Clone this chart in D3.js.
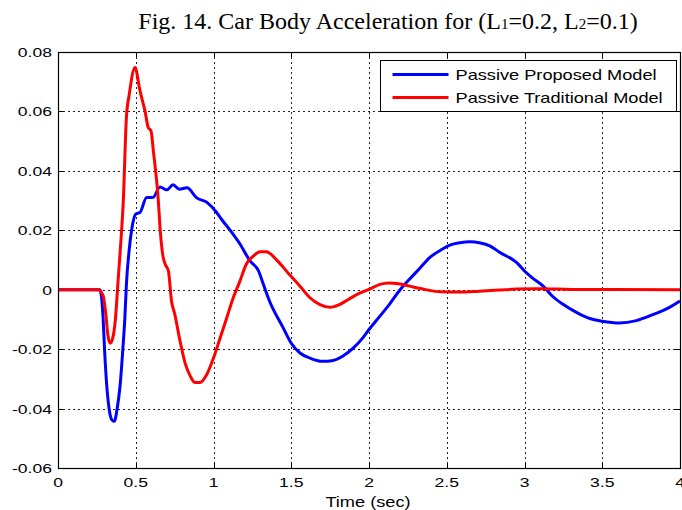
<!DOCTYPE html>
<html>
<head>
<meta charset="utf-8">
<script src="https://cdn.jsdelivr.net/npm/d3@7"></script>
<style>
  body { margin: 0; background: #fff; }
  svg { display: block; }
  .lbl { font-family: Arial, "Liberation Sans", sans-serif; font-size: 13.5px; fill: #000; }
</style>
</head>
<body>
<svg width="682" height="510"></svg>
<script>
// tick values
var xTicks = [0, 0.5, 1, 1.5, 2, 2.5, 3, 3.5, 4];
var yTicks = [-0.06, -0.04, -0.02, 0, 0.02, 0.04, 0.06, 0.08];

// Passive Traditional Model (red)
var tradTime = [0, 0.26, 0.29, 0.31, 0.32, 0.335, 0.35, 0.37, 0.385, 0.40, 0.42, 0.44, 0.459, 0.495,
    0.527, 0.56, 0.58, 0.598, 0.613, 0.645, 0.656, 0.675, 0.69, 0.71, 0.73, 0.75, 0.785, 0.817, 0.85,
    0.88, 0.913, 0.956, 1.0, 1.04, 1.085, 1.127, 1.17, 1.21, 1.256, 1.30, 1.34, 1.41, 1.49, 1.556,
    1.62, 1.685, 1.75, 1.81, 1.87, 1.93, 2.0, 2.07, 2.13, 2.19, 2.26, 2.33, 2.46, 2.585, 2.71, 2.84,
    2.95, 3.1, 3.3, 4.0];
var tradAccel = [0, 0, -0.002, -0.0095, -0.015, -0.018, -0.0167, -0.0095, 0.002, 0.013, 0.030, 0.058,
    0.066, 0.0748, 0.067, 0.060, 0.0546, 0.0535, 0.0468, 0.030, 0.021, 0.0113, 0.0085, 0.0063, -0.0038,
    -0.008, -0.0173, -0.0246, -0.029, -0.0312, -0.0312, -0.0286, -0.023, -0.0167, -0.0095, -0.0027,
    0.0029, 0.0085, 0.0113, 0.0128, 0.0128, 0.0098, 0.005, 0.0012, -0.0027, -0.005, -0.0059, -0.005,
    -0.0032, -0.0014, 0.0001, 0.0018, 0.0023, 0.002, 0.0012, 0.0004, -0.0007, -0.0008, -0.0005,
    -0.0001, 0.0002, 0.0003, 0.0001, 0];

// Passive Proposed Model (blue)
var propTime = [0, 0.27, 0.29, 0.30, 0.313, 0.328, 0.345, 0.362, 0.381, 0.40, 0.416, 0.43, 0.44,
    0.457, 0.476, 0.50, 0.527, 0.57, 0.61, 0.656, 0.70, 0.74, 0.78, 0.83, 0.89, 0.96, 1.02, 1.05,
    1.11, 1.17, 1.235, 1.29, 1.32, 1.36, 1.45, 1.5, 1.556, 1.62, 1.70, 1.77, 1.83, 1.90, 1.96, 2.0,
    2.07, 2.13, 2.20, 2.26, 2.33, 2.39, 2.46, 2.52, 2.585, 2.65, 2.71, 2.78, 2.84, 2.95, 3.0, 3.05,
    3.12, 3.18, 3.25, 3.34, 3.42, 3.5, 3.61, 3.72, 3.83, 3.92, 4.0];
var propAccel = [0, 0, -0.0095, -0.0207, -0.0319, -0.0398, -0.0437, -0.0443, -0.0398, -0.0319,
    -0.0207, -0.0095, 0.0019, 0.013, 0.0209, 0.0255, 0.026, 0.031, 0.031, 0.0346, 0.0336, 0.0353,
    0.0338, 0.0343, 0.031, 0.0293, 0.026, 0.0238, 0.0198, 0.0154, 0.0097, 0.0063, 0.0019, -0.0038,
    -0.013, -0.018, -0.0213, -0.023, -0.0241, -0.0238, -0.0224, -0.0196, -0.0162, -0.0134, -0.0089,
    -0.005, 0, 0.0035, 0.0074, 0.0108, 0.0133, 0.015, 0.0158, 0.0161, 0.0158, 0.0147, 0.0126, 0.0091,
    0.0063, 0.004, 0.0012, -0.0022, -0.005, -0.0078, -0.0097, -0.0106, -0.0112, -0.0104, -0.0083,
    -0.0063, -0.0038];

var seriesNames = ["Passive Proposed Model", "Passive Traditional Model"];
var seriesColors = ["#0000ff", "#ff0000"];

var svg = d3.select("svg");

// plot box (don't call it "top", that's window.top)
var pLeft = 58, pRight = 680, pTop = 52, pBottom = 468;
var stretch = 1.3; // the figure text is wider than normal Arial

var x = d3.scaleLinear().domain([0, 4]).range([pLeft, pRight]);
var y = d3.scaleLinear().domain([-0.06, 0.08]).range([pBottom, pTop]);

function wideText(g, px, py, anchor, str, size) {
    return g.append("text")
        .attr("class", "lbl")
        .attr("transform", "translate(" + px + "," + py + ") scale(" + stretch + ",1)")
        .attr("text-anchor", anchor)
        .style("font-size", size ? size + "px" : null)
        .text(str);
}

// title
var title = svg.append("text")
    .attr("x", 388)
    .attr("y", 29)
    .attr("text-anchor", "middle")
    .style("font-family", "'Times New Roman', 'Liberation Serif', serif")
    .style("font-size", "24px");
title.append("tspan").text("Fig. 14. Car Body Acceleration for (L");
title.append("tspan").attr("font-size", "15px").text("1");
title.append("tspan").text("=0.2, L");
title.append("tspan").attr("font-size", "15px").text("2");
title.append("tspan").text("=0.1)");

// grid
var grid = svg.append("g")
    .attr("stroke", "#222")
    .attr("stroke-width", 1)
    .attr("stroke-dasharray", "2,3");

grid.selectAll(".vgrid")
    .data(xTicks.slice(1, -1))
    .enter().append("line")
    .attr("x1", function (d) { return Math.round(x(d)) + 0.5; })
    .attr("x2", function (d) { return Math.round(x(d)) + 0.5; })
    .attr("y1", pTop)
    .attr("y2", pBottom);

grid.selectAll(".hgrid")
    .data(yTicks.slice(1, -1))
    .enter().append("line")
    .attr("y1", function (d) { return Math.round(y(d)) + 0.5; })
    .attr("y2", function (d) { return Math.round(y(d)) + 0.5; })
    .attr("x1", pLeft)
    .attr("x2", pRight);

// inward ticks
var ticks = svg.append("g").attr("stroke", "#000");
xTicks.forEach(function (d) {
    var px = Math.round(x(d)) + 0.5;
    ticks.append("line").attr("x1", px).attr("x2", px).attr("y1", pBottom).attr("y2", pBottom - 5);
    ticks.append("line").attr("x1", px).attr("x2", px).attr("y1", pTop).attr("y2", pTop + 5);
});
yTicks.forEach(function (d) {
    var py = Math.round(y(d)) + 0.5;
    ticks.append("line").attr("y1", py).attr("y2", py).attr("x1", pLeft).attr("x2", pLeft + 5);
    ticks.append("line").attr("y1", py).attr("y2", py).attr("x1", pRight).attr("x2", pRight - 5);
});

// tick labels
var labels = svg.append("g");
xTicks.forEach(function (d) {
    wideText(labels, x(d), 487, "middle", d3.format("")(d));
});
yTicks.forEach(function (d) {
    var s = d === 0 ? "0" : d3.format(".2f")(d).replace("\u2212", "-");
    wideText(labels, 52, y(d) + 5, "end", s);
});

wideText(svg, 368, 506.5, "middle", "Time (sec)", 14);

// curves
var line = d3.line()
    .x(function (d) { return x(d[0]); })
    .y(function (d) { return y(d[1]); })
    .curve(d3.curveMonotoneX);

var plot = svg.append("g");

plot.append("path")
    .datum(d3.zip(propTime, propAccel))
    .attr("fill", "none")
    .attr("stroke", seriesColors[0])
    .attr("stroke-width", 3)
    .attr("stroke-linejoin", "round")
    .attr("d", line);

plot.append("path")
    .datum(d3.zip(tradTime, tradAccel))
    .attr("fill", "none")
    .attr("stroke", seriesColors[1])
    .attr("stroke-width", 3)
    .attr("stroke-linejoin", "round")
    .attr("d", line);

// axes box
svg.append("rect")
    .attr("x", pLeft + 0.5)
    .attr("y", pTop + 0.5)
    .attr("width", pRight - pLeft)
    .attr("height", pBottom - pTop)
    .attr("fill", "none")
    .attr("stroke", "#000")
    .attr("stroke-width", 1.2);

// legend
var legend = svg.append("g").attr("transform", "translate(380.5,60.5)");
legend.append("rect")
    .attr("width", 296)
    .attr("height", 51)
    .attr("fill", "#fff")
    .attr("stroke", "#000");

seriesNames.forEach(function (name, i) {
    var ly = 14 + i * 23;
    legend.append("line")
        .attr("x1", 12).attr("x2", 68)
        .attr("y1", ly).attr("y2", ly)
        .attr("stroke", seriesColors[i])
        .attr("stroke-width", 3);
    wideText(legend, 75, ly + 5, "start", name, 14);
});
</script>
</body>
</html>
